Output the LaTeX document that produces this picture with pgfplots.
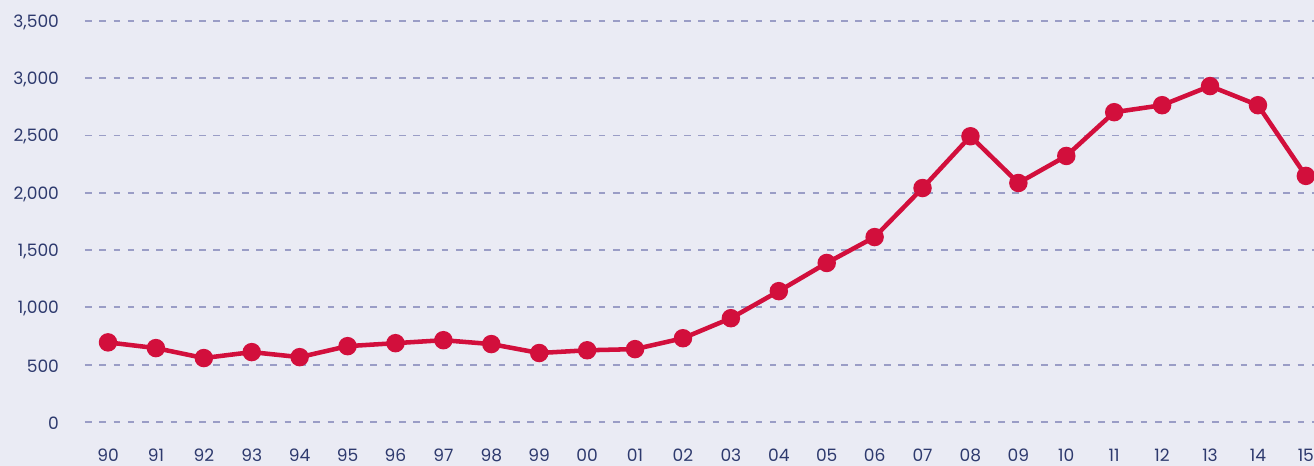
\documentclass[border=0pt]{standalone}
\usepackage{fontspec}
\setmainfont{Poppins}
\usepackage{pgfplots}
\pgfplotsset{compat=1.18}
\definecolor{bg}{HTML}{EAEBF4}
\definecolor{grid}{HTML}{9A9DC6}
\definecolor{txt}{HTML}{2E3A6E}
\definecolor{red}{HTML}{D20F3C}
\begin{document}
\begin{tikzpicture}
\path[use as bounding box, fill=bg] (-63.75pt,-33pt) rectangle (921.75pt,316.5pt);
\clip (-63.75pt,-33pt) rectangle (921.75pt,316.5pt);
\begin{axis}[
  scale only axis, width=921.75pt, height=300.75pt,
  xmin=-0.48, xmax=25.17, ymin=0, ymax=3500,
  separate axis lines, axis x line*=bottom, axis y line*=left,
  x axis line style={draw=none}, y axis line style={draw=none},
  major tick length=0pt,
  xtick={0,...,25},
  xticklabels={90,91,92,93,94,95,96,97,98,99,00,01,02,03,04,05,06,07,08,09,10,11,12,13,14,15},
  ytick={0,500,...,3500},
  ymajorgrids,
  grid style={draw=grid, line width=1.4pt, dash pattern=on 5pt off 5.7pt},
  /pgf/number format/assume math mode=true,
  /pgf/number format/1000 sep={,},
  scaled y ticks=false,
  tick label style={font=\fontsize{12.8}{14}\selectfont, text=txt},
  yticklabel style={anchor=east, xshift=-16pt, yshift=-1pt},
  xticklabel style={anchor=north, yshift=-17pt},
  clip=false,
]
\addplot[color=red, line width=3.4pt, mark=*, mark size=5.2pt, mark options={solid, fill=red, draw=none}] coordinates {
(0,695) (1,645) (2,558) (3,610) (4,566) (5,662) (6,688) (7,714) (8,680) (9,602)
(10,626) (11,636) (12,731) (13,906) (14,1142) (15,1388) (16,1614) (17,2042)
(18,2494) (19,2086) (20,2322) (21,2704) (22,2765) (23,2932) (24,2765) (25,2148)
};
\end{axis}
\end{tikzpicture}
\end{document}
